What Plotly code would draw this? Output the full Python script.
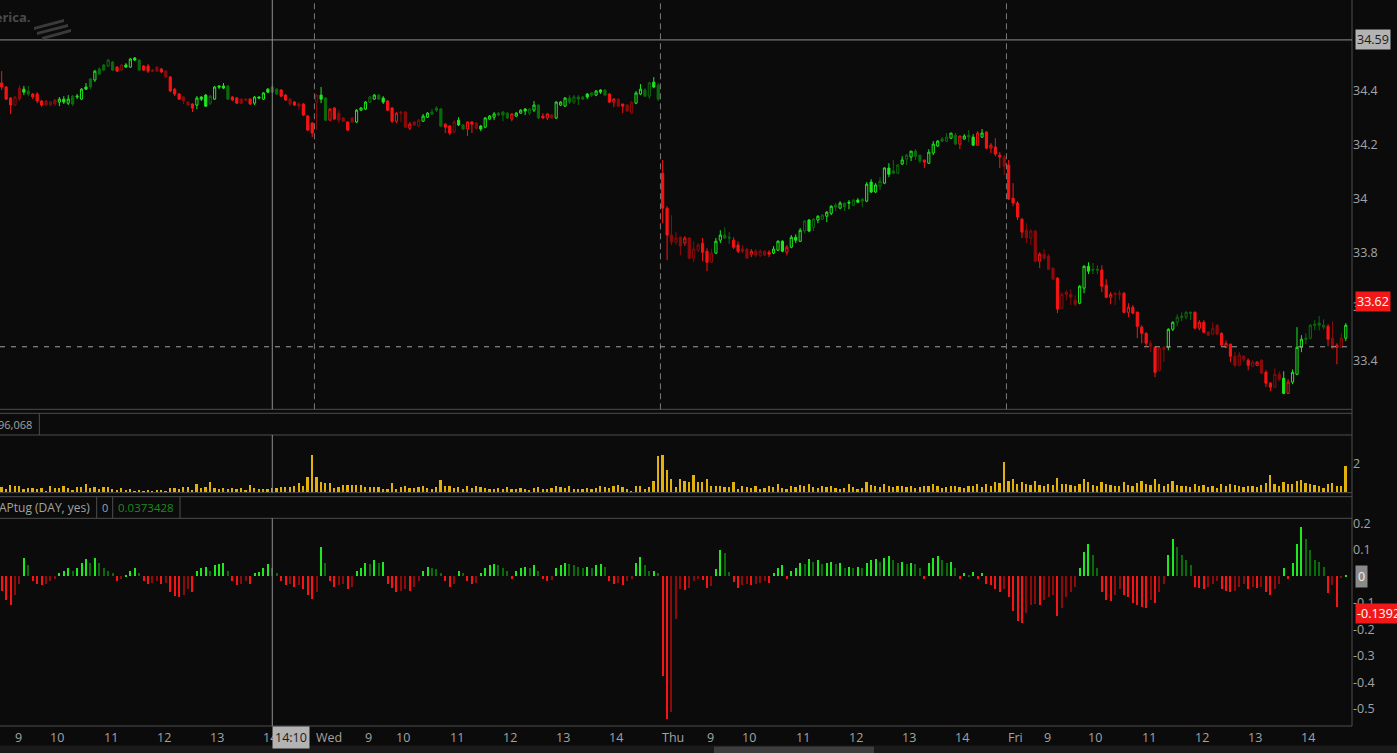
import plotly.graph_objects as go

# ---------------- data (5-minute bars, Tue partial .. Fri) ----------------
tue_open = [34.430, 34.415, 34.374, 34.348, 34.411, 34.407, 34.400, 34.389, 34.389, 34.363,
            34.363, 34.348, 34.367, 34.359, 34.370, 34.355, 34.381, 34.378, 34.370, 34.415,
            34.445, 34.441, 34.482, 34.497, 34.493, 34.508, 34.489, 34.478, 34.497, 34.489,
            34.523, 34.515, 34.493, 34.493, 34.478, 34.489, 34.482, 34.474, 34.452, 34.407,
            34.389, 34.378, 34.359, 34.352, 34.348, 34.378, 34.385, 34.355, 34.370, 34.419,
            34.419, 34.419, 34.378, 34.374, 34.370, 34.370, 34.370, 34.355, 34.378, 34.370,
            34.407, 34.415, 34.407, 34.404, 34.385, 34.370, 34.359, 34.352, 34.352, 34.307,
            34.281]
tue_high = [34.474, 34.419, 34.378, 34.381, 34.422, 34.419, 34.419, 34.393, 34.396, 34.367,
            34.367, 34.363, 34.370, 34.378, 34.381, 34.385, 34.385, 34.389, 34.411, 34.430,
            34.448, 34.478, 34.489, 34.500, 34.519, 34.512, 34.493, 34.500, 34.504, 34.523,
            34.526, 34.519, 34.497, 34.500, 34.482, 34.493, 34.486, 34.478, 34.456, 34.411,
            34.393, 34.381, 34.363, 34.355, 34.381, 34.381, 34.389, 34.385, 34.419, 34.422,
            34.430, 34.422, 34.381, 34.378, 34.374, 34.374, 34.374, 34.381, 34.381, 34.396,
            34.411, 34.422, 34.411, 34.407, 34.389, 34.374, 34.363, 34.359, 34.355, 34.311,
            34.285]
tue_low = [34.404, 34.367, 34.315, 34.344, 34.363, 34.385, 34.381, 34.370, 34.355, 34.341,
           34.344, 34.344, 34.344, 34.344, 34.352, 34.348, 34.344, 34.370, 34.367, 34.404,
           34.407, 34.434, 34.460, 34.474, 34.489, 34.474, 34.471, 34.474, 34.486, 34.486,
           34.512, 34.474, 34.474, 34.467, 34.471, 34.471, 34.467, 34.448, 34.396, 34.381,
           34.367, 34.352, 34.344, 34.322, 34.333, 34.363, 34.341, 34.348, 34.367, 34.407,
           34.407, 34.367, 34.363, 34.352, 34.352, 34.363, 34.348, 34.348, 34.370, 34.367,
           34.393, 34.393, 34.385, 34.378, 34.363, 34.344, 34.344, 34.329, 34.307, 34.251,
           34.229]
tue_close = [34.415, 34.370, 34.348, 34.378, 34.370, 34.396, 34.389, 34.378, 34.363, 34.348,
             34.348, 34.359, 34.352, 34.370, 34.359, 34.370, 34.352, 34.381, 34.407, 34.407,
             34.415, 34.474, 34.463, 34.478, 34.515, 34.478, 34.474, 34.497, 34.489, 34.519,
             34.515, 34.478, 34.478, 34.474, 34.474, 34.474, 34.471, 34.452, 34.400, 34.389,
             34.370, 34.363, 34.348, 34.337, 34.374, 34.370, 34.344, 34.381, 34.415, 34.415,
             34.411, 34.370, 34.367, 34.355, 34.355, 34.367, 34.352, 34.378, 34.374, 34.393,
             34.396, 34.396, 34.389, 34.381, 34.367, 34.352, 34.348, 34.344, 34.311, 34.255,
             34.244]

wed_open = [34.359, 34.385, 34.374, 34.292, 34.337, 34.318, 34.300, 34.285, 34.300, 34.285,
            34.329, 34.333, 34.359, 34.370, 34.385, 34.374, 34.363, 34.337, 34.288, 34.322,
            34.322, 34.262, 34.285, 34.270, 34.288, 34.303, 34.322, 34.337, 34.333, 34.277,
            34.270, 34.248, 34.292, 34.274, 34.259, 34.285, 34.281, 34.270, 34.266, 34.296,
            34.303, 34.318, 34.322, 34.318, 34.296, 34.307, 34.318, 34.333, 34.318, 34.329,
            34.348, 34.307, 34.300, 34.311, 34.300, 34.348, 34.344, 34.374, 34.359, 34.378,
            34.378, 34.389, 34.393, 34.385, 34.404, 34.404, 34.389, 34.359, 34.370, 34.352,
            34.348, 34.318, 34.355, 34.389, 34.404, 34.381, 34.433, 34.422]
wed_high = [34.389, 34.415, 34.378, 34.337, 34.341, 34.329, 34.303, 34.288, 34.303, 34.333,
            34.341, 34.363, 34.381, 34.389, 34.389, 34.381, 34.367, 34.341, 34.322, 34.326,
            34.326, 34.285, 34.288, 34.296, 34.315, 34.322, 34.333, 34.344, 34.337, 34.281,
            34.274, 34.292, 34.303, 34.277, 34.288, 34.288, 34.285, 34.274, 34.303, 34.311,
            34.322, 34.322, 34.326, 34.322, 34.318, 34.322, 34.333, 34.337, 34.337, 34.363,
            34.352, 34.318, 34.318, 34.315, 34.363, 34.363, 34.378, 34.385, 34.385, 34.385,
            34.381, 34.393, 34.396, 34.404, 34.407, 34.407, 34.393, 34.374, 34.374, 34.352,
            34.352, 34.363, 34.400, 34.426, 34.411, 34.434, 34.452, 34.430]
wed_low = [34.255, 34.355, 34.288, 34.288, 34.292, 34.281, 34.285, 34.251, 34.281, 34.281,
           34.326, 34.329, 34.355, 34.367, 34.367, 34.352, 34.326, 34.281, 34.281, 34.285,
           34.262, 34.255, 34.270, 34.266, 34.285, 34.300, 34.311, 34.322, 34.266, 34.244,
           34.236, 34.244, 34.270, 34.255, 34.233, 34.244, 34.255, 34.251, 34.262, 34.292,
           34.292, 34.307, 34.288, 34.296, 34.288, 34.303, 34.315, 34.311, 34.311, 34.322,
           34.296, 34.296, 34.292, 34.296, 34.296, 34.344, 34.341, 34.352, 34.352, 34.348,
           34.367, 34.370, 34.378, 34.381, 34.389, 34.381, 34.355, 34.341, 34.341, 34.318,
           34.322, 34.315, 34.352, 34.385, 34.378, 34.370, 34.411, 34.363]
wed_close = [34.385, 34.370, 34.292, 34.333, 34.296, 34.292, 34.288, 34.255, 34.285, 34.329,
             34.337, 34.359, 34.378, 34.385, 34.370, 34.359, 34.329, 34.288, 34.318, 34.318,
             34.266, 34.277, 34.274, 34.292, 34.307, 34.318, 34.315, 34.329, 34.270, 34.266,
             34.244, 34.285, 34.274, 34.259, 34.285, 34.277, 34.262, 34.259, 34.300, 34.307,
             34.315, 34.311, 34.311, 34.300, 34.315, 34.318, 34.329, 34.326, 34.333, 34.348,
             34.300, 34.300, 34.315, 34.300, 34.359, 34.359, 34.374, 34.359, 34.378, 34.370,
             34.370, 34.378, 34.385, 34.400, 34.396, 34.385, 34.359, 34.370, 34.344, 34.344,
             34.326, 34.359, 34.393, 34.407, 34.381, 34.430, 34.415, 34.370]

thu_open = [34.095, 33.965, 33.865, 33.839, 33.857, 33.835, 33.854, 33.779, 33.809, 33.835,
            33.805, 33.764, 33.798, 33.846, 33.865, 33.857, 33.846, 33.828, 33.813, 33.813,
            33.794, 33.805, 33.790, 33.805, 33.801, 33.798, 33.809, 33.842, 33.801, 33.820,
            33.857, 33.842, 33.880, 33.921, 33.894, 33.921, 33.924, 33.935, 33.946, 33.976,
            33.965, 33.984, 33.987, 33.976, 33.995, 33.998, 33.991, 34.062, 34.025, 34.047,
            34.058, 34.114, 34.103, 34.095, 34.129, 34.147, 34.155, 34.177, 34.162, 34.144,
            34.132, 34.170, 34.196, 34.222, 34.214, 34.225, 34.236, 34.203, 34.222, 34.236,
            34.229, 34.199, 34.229, 34.248, 34.188, 34.192, 34.162, 34.155]
thu_high = [34.144, 33.972, 33.939, 33.876, 33.861, 33.861, 33.857, 33.842, 33.835, 33.854,
            33.816, 33.813, 33.854, 33.883, 33.894, 33.876, 33.857, 33.842, 33.828, 33.816,
            33.813, 33.813, 33.813, 33.809, 33.809, 33.824, 33.846, 33.846, 33.828, 33.865,
            33.868, 33.891, 33.921, 33.924, 33.928, 33.939, 33.943, 33.954, 33.976, 33.984,
            33.991, 33.984, 33.995, 33.998, 34.002, 34.002, 34.062, 34.073, 34.058, 34.080,
            34.117, 34.132, 34.144, 34.129, 34.158, 34.166, 34.177, 34.184, 34.162, 34.144,
            34.184, 34.214, 34.218, 34.229, 34.244, 34.244, 34.244, 34.233, 34.240, 34.255,
            34.240, 34.251, 34.259, 34.251, 34.207, 34.225, 34.173, 34.162]
thu_low = [33.909, 33.772, 33.828, 33.831, 33.790, 33.824, 33.775, 33.764, 33.801, 33.768,
           33.731, 33.761, 33.794, 33.835, 33.850, 33.831, 33.813, 33.798, 33.798, 33.779,
           33.783, 33.783, 33.783, 33.787, 33.783, 33.794, 33.805, 33.801, 33.790, 33.816,
           33.835, 33.839, 33.872, 33.876, 33.880, 33.909, 33.921, 33.913, 33.939, 33.954,
           33.961, 33.954, 33.961, 33.972, 33.984, 33.969, 33.987, 34.021, 34.021, 34.032,
           34.054, 34.080, 34.091, 34.091, 34.125, 34.125, 34.140, 34.144, 34.132, 34.114,
           34.129, 34.162, 34.192, 34.210, 34.210, 34.222, 34.199, 34.184, 34.218, 34.210,
           34.196, 34.196, 34.225, 34.184, 34.170, 34.158, 34.114, 34.088]
thu_close = [33.965, 33.865, 33.839, 33.854, 33.824, 33.854, 33.779, 33.813, 33.828, 33.801,
             33.764, 33.798, 33.842, 33.865, 33.854, 33.854, 33.820, 33.805, 33.805, 33.779,
             33.805, 33.790, 33.805, 33.790, 33.794, 33.813, 33.842, 33.805, 33.820, 33.857,
             33.846, 33.883, 33.917, 33.880, 33.924, 33.935, 33.939, 33.950, 33.972, 33.969,
             33.984, 33.969, 33.984, 33.995, 33.987, 33.991, 34.054, 34.025, 34.051, 34.065,
             34.114, 34.091, 34.095, 34.125, 34.144, 34.162, 34.177, 34.158, 34.140, 34.136,
             34.173, 34.203, 34.214, 34.214, 34.229, 34.244, 34.203, 34.233, 34.233, 34.229,
             34.199, 34.244, 34.244, 34.188, 34.199, 34.166, 34.155, 34.121]

fri_open = [34.125, 34.002, 33.984, 33.924, 33.883, 33.854, 33.880, 33.768, 33.794, 33.787,
            33.742, 33.705, 33.593, 33.653, 33.645, 33.623, 33.612, 33.668, 33.749, 33.738,
            33.738, 33.735, 33.679, 33.634, 33.649, 33.649, 33.649, 33.578, 33.597, 33.578,
            33.523, 33.500, 33.463, 33.448, 33.363, 33.448, 33.448, 33.515, 33.541, 33.564,
            33.560, 33.578, 33.578, 33.519, 33.541, 33.504, 33.497, 33.530, 33.500, 33.448,
            33.460, 33.415, 33.381, 33.415, 33.400, 33.378, 33.381, 33.400, 33.355, 33.315,
            33.300, 33.348, 33.333, 33.277, 33.319, 33.348, 33.448, 33.482, 33.482, 33.534,
            33.538, 33.523, 33.526, 33.482, 33.448, 33.448, 33.482]
fri_high = [34.144, 34.058, 33.991, 33.928, 33.909, 33.887, 33.883, 33.801, 33.813, 33.794,
            33.746, 33.709, 33.653, 33.660, 33.664, 33.642, 33.679, 33.753, 33.764, 33.761,
            33.753, 33.753, 33.701, 33.653, 33.653, 33.660, 33.653, 33.612, 33.605, 33.582,
            33.530, 33.504, 33.474, 33.452, 33.448, 33.452, 33.519, 33.545, 33.571, 33.578,
            33.582, 33.582, 33.582, 33.549, 33.549, 33.508, 33.541, 33.534, 33.504, 33.474,
            33.460, 33.430, 33.430, 33.419, 33.407, 33.400, 33.396, 33.404, 33.363, 33.319,
            33.370, 33.359, 33.359, 33.329, 33.366, 33.523, 33.493, 33.500, 33.534, 33.549,
            33.564, 33.552, 33.534, 33.545, 33.463, 33.500, 33.538]
fri_low = [33.995, 33.972, 33.921, 33.854, 33.835, 33.828, 33.764, 33.742, 33.772, 33.735,
           33.697, 33.575, 33.590, 33.623, 33.605, 33.601, 33.608, 33.649, 33.720, 33.720,
           33.720, 33.653, 33.630, 33.608, 33.605, 33.623, 33.575, 33.560, 33.571, 33.482,
           33.463, 33.452, 33.430, 33.337, 33.359, 33.393, 33.437, 33.508, 33.526, 33.545,
           33.552, 33.549, 33.515, 33.511, 33.500, 33.489, 33.493, 33.493, 33.452, 33.445,
           33.393, 33.374, 33.378, 33.393, 33.363, 33.374, 33.378, 33.348, 33.300, 33.285,
           33.296, 33.322, 33.274, 33.274, 33.311, 33.344, 33.430, 33.460, 33.478, 33.511,
           33.511, 33.515, 33.452, 33.441, 33.385, 33.445, 33.471]
fri_close = [33.999, 33.984, 33.932, 33.876, 33.854, 33.880, 33.768, 33.794, 33.779, 33.738,
             33.701, 33.590, 33.645, 33.645, 33.634, 33.608, 33.675, 33.749, 33.731, 33.735,
             33.735, 33.675, 33.634, 33.645, 33.645, 33.645, 33.578, 33.597, 33.575, 33.526,
             33.500, 33.463, 33.452, 33.355, 33.445, 33.441, 33.515, 33.541, 33.560, 33.560,
             33.578, 33.575, 33.519, 33.541, 33.504, 33.493, 33.519, 33.497, 33.456, 33.463,
             33.415, 33.381, 33.419, 33.404, 33.381, 33.393, 33.393, 33.352, 33.315, 33.300,
             33.348, 33.329, 33.277, 33.319, 33.355, 33.448, 33.478, 33.478, 33.530, 33.530,
             33.530, 33.530, 33.478, 33.445, 33.456, 33.482, 33.530]

# volume (axis units as shown on the volume pane)
tue_volume = [0.39, 0.23, 0.53, 0.44, 0.44, 0.23, 0.30, 0.30, 0.25, 0.30,
              0.07, 0.46, 0.32, 0.32, 0.41, 0.30, 0.16, 0.37, 0.34, 0.60,
              0.30, 0.37, 0.20, 0.39, 0.39, 0.20, 0.18, 0.28, 0.18, 0.25,
              0.11, 0.16, 0.11, 0.18, 0.05, 0.14, 0.18, 0.11, 0.30, 0.30,
              0.20, 0.39, 0.39, 0.18, 0.60, 0.32, 0.39, 0.74, 0.30, 0.25,
              0.30, 0.25, 0.30, 0.25, 0.30, 0.16, 0.53, 0.30, 0.20, 0.20,
              0.25, 0.30, 0.30, 0.39, 0.39, 0.39, 0.46, 0.67, 0.46, 1.08,
              2.53]
wed_volume = [1.08, 0.74, 0.67, 0.67, 0.30, 0.39, 0.48, 0.48, 0.48, 0.53,
              0.48, 0.39, 0.39, 0.34, 0.39, 0.25, 0.25, 0.62, 0.25, 0.35,
              0.45, 0.30, 0.28, 0.35, 0.40, 0.30, 0.25, 0.35, 0.85, 0.40,
              0.45, 0.30, 0.35, 0.25, 0.40, 0.30, 0.45, 0.35, 0.30, 0.25,
              0.20, 0.30, 0.25, 0.35, 0.20, 0.25, 0.30, 0.20, 0.15, 0.30,
              0.35, 0.20, 0.25, 0.30, 0.45, 0.35, 0.30, 0.40, 0.25, 0.20,
              0.25, 0.30, 0.25, 0.30, 0.45, 0.35, 0.30, 0.40, 0.50, 0.37,
              0.20, 0.10, 0.45, 0.40, 0.25, 0.33, 0.75, 2.50]
thu_volume = [2.55, 1.55, 0.90, 0.33, 0.90, 0.80, 0.70, 1.20, 0.70, 0.70,
              0.90, 0.45, 0.45, 0.45, 0.33, 0.33, 0.70, 0.20, 0.40, 0.35,
              0.30, 0.45, 0.25, 0.30, 0.40, 0.35, 0.55, 0.30, 0.25, 0.40,
              0.35, 0.50, 0.45, 0.60, 0.35, 0.30, 0.40, 0.35, 0.45, 0.30,
              0.25, 0.30, 0.60, 0.35, 0.25, 0.30, 0.70, 0.50, 0.40, 0.35,
              0.60, 0.45, 0.35, 0.40, 0.45, 0.35, 0.40, 0.30, 0.35, 0.40,
              0.45, 0.55, 0.40, 0.30, 0.35, 0.45, 0.40, 0.35, 0.30, 0.40,
              0.45, 0.55, 0.35, 0.60, 0.40, 0.70, 0.65, 2.10]
fri_volume = [0.80, 0.90, 0.60, 0.70, 0.55, 0.50, 0.75, 0.50, 0.45, 0.60,
              0.50, 0.95, 0.60, 0.55, 0.50, 0.45, 0.60, 0.90, 0.70, 0.50,
              0.45, 0.70, 0.55, 0.50, 0.40, 0.45, 0.70, 0.50, 0.45, 0.65,
              0.80, 0.60, 0.50, 0.90, 0.55, 0.45, 0.60, 0.75, 0.50, 0.40,
              0.45, 0.35, 0.55, 0.40, 0.50, 0.35, 0.40, 0.30, 0.55, 0.45,
              0.60, 0.50, 0.40, 0.35, 0.45, 0.40, 0.35, 0.50, 0.65, 1.20,
              0.55, 0.45, 0.70, 0.60, 0.55, 0.75, 0.85, 0.66, 0.60, 0.50,
              0.43, 0.30, 0.57, 0.66, 0.43, 0.43, 1.77]

# APtug (DAY, yes) histogram
tue_aptug = [-0.055, -0.09, -0.11, -0.07, -0.03, 0.07, 0.04, -0.02, -0.03, -0.035,
             -0.03, -0.02, -0.01, 0.01, 0.02, 0.03, 0.02, 0.03, 0.05, 0.065,
             0.05, 0.07, 0.05, 0.03, 0.02, 0.01, -0.02, -0.01, 0.005, 0.02,
             0.03, 0.01, -0.02, -0.03, -0.025, -0.02, -0.03, -0.025, -0.06, -0.075,
             -0.08, -0.07, -0.05, -0.06, 0.02, 0.03, 0.035, 0.02, 0.04, 0.045,
             0.05, 0.02, -0.02, -0.035, -0.03, -0.02, -0.03, 0.01, 0.015, 0.03,
             0.045, 0.03, 0.01, -0.02, -0.035, -0.03, -0.04, -0.035, -0.05, -0.07,
             -0.085]
wed_aptug = [-0.06, 0.11, 0.05, -0.02, -0.04, -0.035, -0.03, -0.05, -0.04, 0.02,
             0.03, 0.05, 0.045, 0.06, 0.05, 0.055, -0.03, -0.045, -0.06, -0.055,
             -0.05, -0.055, -0.04, -0.02, 0.02, 0.035, 0.03, 0.025, 0.01, -0.02,
             -0.04, -0.03, 0.02, 0.01, -0.02, -0.03, -0.025, 0.01, 0.03, 0.04,
             0.045, 0.04, 0.03, 0.02, -0.01, 0.02, 0.03, 0.035, 0.03, 0.04,
             0.02, -0.01, -0.02, -0.015, 0.03, 0.04, 0.05, 0.045, 0.04, 0.035,
             0.03, 0.035, 0.03, 0.04, 0.045, 0.035, -0.02, -0.03, -0.025, -0.033,
             -0.02, -0.01, 0.05, 0.073, 0.043, 0.02, 0.021, 0.012]
thu_aptug = [-0.375, -0.54, -0.514, -0.16, -0.05, -0.053, -0.043, -0.02, -0.01, -0.016,
             -0.046, -0.036, 0.028, 0.099, 0.088, 0.016, -0.021, -0.044, -0.035, -0.03,
             -0.035, -0.03, -0.025, -0.02, -0.025, 0.01, 0.03, 0.04, -0.01, 0.02,
             0.03, 0.05, 0.045, 0.065, 0.055, 0.06, 0.045, 0.05, 0.055, 0.045,
             0.05, 0.03, 0.035, 0.03, 0.035, 0.03, 0.05, 0.06, 0.065, 0.055,
             0.07, 0.075, 0.06, 0.05, 0.055, 0.045, 0.05, 0.045, 0.03, -0.01,
             0.05, 0.07, 0.075, 0.06, 0.05, 0.055, 0.03, -0.01, 0.01, 0.005,
             0.015, -0.01, 0.01, -0.03, -0.035, -0.05, -0.06, -0.05]
fri_aptug = [-0.08, -0.13, -0.17, -0.175, -0.14, -0.11, -0.105, -0.11, -0.09, -0.08,
             -0.07, -0.15, -0.12, -0.08, -0.06, -0.04, 0.03, 0.09, 0.12, 0.08,
             0.03, -0.06, -0.09, -0.095, -0.07, -0.05, -0.07, -0.08, -0.10, -0.11,
             -0.115, -0.12, -0.09, -0.10, -0.06, -0.03, 0.08, 0.14, 0.11, 0.08,
             0.06, 0.04, -0.04, -0.045, -0.05, -0.04, -0.03, -0.02, -0.05, -0.055,
             -0.06, -0.055, -0.04, -0.03, -0.05, -0.04, -0.045, -0.04, -0.06, -0.07,
             -0.05, -0.03, 0.03, -0.01, 0.05, 0.12, 0.185, 0.14, 0.10, 0.06,
             0.055, 0.035, -0.063, -0.035, -0.116, -0.005, 0.004]

x_labels = ["9", "10", "11", "12", "13", "14", "Wed", "9", "10", "11", "12", "13", "14",
            "Thu", "9", "10", "11", "12", "13", "14", "Fri", "9", "10", "11", "12", "13", "14"]
x_label_bars = [3, 11, 23, 35, 47, 59, 71, 82, 89, 101, 113, 125, 137,
                149, 159, 167, 179, 191, 203, 215, 227, 235, 245, 257, 269, 281, 293]

crosshair_bar = 61
crosshair_time = "14:10"
crosshair_price = 34.59
last_price = 33.62
ref_level = 33.45
volume_text = "96,068"
study_name = "APtug (DAY, yes)"
study_input = "0"
study_value = "0.0373428"
study_last = -0.1392

price_ticks = [33.4, 33.6, 33.8, 34.0, 34.2, 34.4]
price_tick_text = ["33.4", "33.6", "33.8", "34", "34.2", "34.4"]
study_ticks = [0.2, 0.1, -0.1, -0.2, -0.3, -0.4, -0.5]
study_tick_text = ["0.2", "0.1", "-0.1", "-0.2", "-0.3", "-0.4", "-0.5"]

# ---------------- assemble ----------------
opens = tue_open + wed_open + thu_open + fri_open
highs = tue_high + wed_high + thu_high + fri_high
lows = tue_low + wed_low + thu_low + fri_low
closes = tue_close + wed_close + thu_close + fri_close
volume = tue_volume + wed_volume + thu_volume + fri_volume
aptug = tue_aptug + wed_aptug + thu_aptug + fri_aptug
day_lengths = [len(tue_close), len(wed_close), len(thu_close), len(fri_close)]
n = len(closes)
xs = list(range(n))

BG = "#0b0b0b"
FRAME = "#4e4e4e"
TXT = "#a3a3a3"
FONT = "Open Sans"
COLORS = {"ub": "#1ee81e", "ud": "#0a6b0a", "db": "#f81414", "dd": "#8c0a0a"}


def category(i):
    v = aptug[i]
    p = aptug[i - 1] if i > 0 else 0.0
    if v >= 0:
        return "ub" if v > p else "ud"
    return "db" if v < p else "dd"


cats = [category(i) for i in range(n)]

W_PLOT, H_PLOT = 1352.0, 726.0


def px_x(px):
    return px / W_PLOT


def px_y(py):
    return 1 - py / H_PLOT


fig = go.Figure()

for key, col in COLORS.items():
    idx = [i for i in range(n) if cats[i] == key]
    fig.add_trace(go.Candlestick(
        x=[xs[i] for i in idx], open=[opens[i] for i in idx], high=[highs[i] for i in idx],
        low=[lows[i] for i in idx], close=[closes[i] for i in idx],
        increasing=dict(line=dict(color=col, width=1), fillcolor=BG),
        decreasing=dict(line=dict(color=col, width=1), fillcolor=col),
        whiskerwidth=0, showlegend=False, xaxis="x", yaxis="y"))

fig.add_trace(go.Bar(x=xs, y=volume, width=0.4, marker=dict(color="#e3b10c", line=dict(width=0)),
                     showlegend=False, xaxis="x", yaxis="y2"))
fig.add_trace(go.Bar(x=xs, y=aptug, width=0.24,
                     marker=dict(color=[COLORS[c] for c in cats], line=dict(width=0)),
                     showlegend=False, xaxis="x", yaxis="y3"))

shapes = []
line = dict(color=FRAME, width=1)
for py in [409.3, 413.3, 435.0, 492.7, 496.7, 518.3, 726.0]:
    shapes.append(dict(type="line", xref="paper", yref="paper", x0=0, x1=1,
                       y0=px_y(py), y1=px_y(py), line=line))
shapes.append(dict(type="line", xref="paper", yref="paper", x0=1, x1=1, y0=0, y1=1, line=line))
for px in [39.3]:
    shapes.append(dict(type="line", xref="paper", yref="paper", x0=px_x(px), x1=px_x(px),
                       y0=px_y(435), y1=px_y(413.3), line=line))
for px in [96.7, 112.7, 180.0]:
    shapes.append(dict(type="line", xref="paper", yref="paper", x0=px_x(px), x1=px_x(px),
                       y0=px_y(518.3), y1=px_y(496.7), line=line))

# day separators
start = 0
for L in day_lengths[:-1]:
    start += L
    shapes.append(dict(type="line", xref="x", yref="paper", x0=start - 0.5, x1=start - 0.5,
                       y0=px_y(409.3), y1=1, line=dict(color="#7a7a7a", width=1, dash="6px,4px")))
# reference level
shapes.append(dict(type="line", xref="paper", yref="y", x0=0, x1=1, y0=ref_level, y1=ref_level,
                   line=dict(color="#a0a0a0", width=1, dash="5px,6px")))
# crosshair
ch = dict(color="#8f8f8f", width=1)
for y0, y1 in [(px_y(409.3), 1), (px_y(492.7), px_y(435)), (0, px_y(518.3))]:
    shapes.append(dict(type="line", xref="x", yref="paper", x0=crosshair_bar, x1=crosshair_bar,
                       y0=y0, y1=y1, line=ch))
shapes.append(dict(type="line", xref="paper", yref="y", x0=0, x1=1, y0=crosshair_price,
                   y1=crosshair_price, line=ch))
# bottom scroll strip
shapes.append(dict(type="rect", xref="paper", yref="paper", x0=0, x1=px_x(1397),
                   y0=px_y(753), y1=px_y(745.5), fillcolor="#1a1a1a", line=dict(width=0)))
shapes.append(dict(type="rect", xref="paper", yref="paper", x0=px_x(714), x1=px_x(874),
                   y0=px_y(753), y1=px_y(746.5), fillcolor="#3d3d3d", line=dict(width=0)))
# logo stripes
for (lx, ly, rx, ry) in [(34, 27, 64, 19), (37, 32, 68, 24), (42, 37, 71, 29)]:
    path = "M {} {} L {} {} L {} {} L {} {} Z".format(
        px_x(lx), px_y(ly), px_x(rx), px_y(ry), px_x(rx), px_y(ry + 3), px_x(lx), px_y(ly + 3))
    shapes.append(dict(type="path", xref="paper", yref="paper", path=path,
                       fillcolor="#3a3a3a", line=dict(width=0)))

ann = []
f = dict(family=FONT, size=12.5, color=TXT)
fh = dict(family=FONT, size=11, color=TXT)
for lab, b in zip(x_labels, x_label_bars):
    ann.append(dict(x=b - 0.5, xref="x", y=px_y(737), yref="paper", text=lab, showarrow=False,
                    xanchor="left", yanchor="middle", font=f))
ann.append(dict(x=crosshair_bar, xref="x", y=px_y(737), yref="paper", text=crosshair_time,
                showarrow=False, xanchor="left", yanchor="middle", bgcolor="#b3b3b3",
                borderpad=2, font=dict(family=FONT, size=12.5, color="#1a1a1a")))
ax = px_x(1354.5)
ann.append(dict(x=ax, xref="paper", y=crosshair_price, yref="y", text=f"{crosshair_price:.2f}",
                showarrow=False, xanchor="left", yanchor="middle", bgcolor="#b3b3b3", borderpad=1,
                font=dict(family=FONT, size=12.5, color="#1a1a1a")))
ann.append(dict(x=ax, xref="paper", y=last_price, yref="y", text=f"{last_price:.2f}",
                showarrow=False, xanchor="left", yanchor="middle", bgcolor="#f01818", borderpad=1,
                font=dict(family=FONT, size=12.5, color="#ffffff")))
ann.append(dict(x=ax, xref="paper", y=0, yref="y3", text="0",
                showarrow=False, xanchor="left", yanchor="middle", bgcolor="#8a8a8a", borderpad=2,
                font=dict(family=FONT, size=12.5, color="#f0f0f0")))
ann.append(dict(x=ax, xref="paper", y=study_last, yref="y3", text=f"{study_last:.4f}",
                showarrow=False, xanchor="left", yanchor="middle", bgcolor="#f01818", borderpad=1,
                font=dict(family=FONT, size=12.5, color="#ffffff")))
# headers
ann.append(dict(x=px_x(34), xref="paper", y=px_y(424), yref="paper", text=volume_text,
                showarrow=False, xanchor="right", yanchor="middle", font=fh))
ann.append(dict(x=px_x(92), xref="paper", y=px_y(507.5), yref="paper", text=study_name,
                showarrow=False, xanchor="right", yanchor="middle",
                font=dict(family=FONT, size=12, color=TXT)))
ann.append(dict(x=px_x(104.5), xref="paper", y=px_y(507.5), yref="paper", text=study_input,
                showarrow=False, xanchor="center", yanchor="middle", font=fh))
ann.append(dict(x=px_x(146), xref="paper", y=px_y(507.5), yref="paper", text=study_value,
                showarrow=False, xanchor="center", yanchor="middle",
                font=dict(family=FONT, size=11.5, color="#1f8a1f")))
ann.append(dict(x=px_x(33), xref="paper", y=px_y(17), yref="paper", text="<b>merica.</b>",
                showarrow=False, xanchor="right", yanchor="middle",
                font=dict(family=FONT, size=13, color="#4a4a4a")))

axis_common = dict(showgrid=False, zeroline=False, showline=False, ticks="",
                   tickfont=dict(family=FONT, size=12.5, color=TXT))
fig.update_layout(
    width=1397, height=753, margin=dict(l=0, r=45, t=0, b=27, autoexpand=False),
    paper_bgcolor=BG, plot_bgcolor=BG, showlegend=False, bargap=0,
    xaxis=dict(range=[-0.383, 304.4], showticklabels=False, rangeslider=dict(visible=False),
               anchor="y3", **{k: v for k, v in axis_common.items() if k != "tickfont"}),
    yaxis=dict(domain=[px_y(409.3), 1], range=[33.2178, 34.7383], side="right", anchor="x",
               tickvals=price_ticks, ticktext=price_tick_text, **axis_common),
    yaxis2=dict(domain=[px_y(492.3), px_y(435)], range=[0, 3.93], side="right", anchor="x",
                tickvals=[2], ticktext=["2"], **axis_common),
    yaxis3=dict(domain=[0, px_y(518.3)], range=[-0.564, 0.219], side="right", anchor="x",
                tickvals=study_ticks, ticktext=study_tick_text, **axis_common),
    shapes=shapes, annotations=ann,
)

fig.write_html("out.html", config={"displayModeBar": False},
               post_script="document.body.style.margin='0';document.body.style.background='%s';" % BG)
